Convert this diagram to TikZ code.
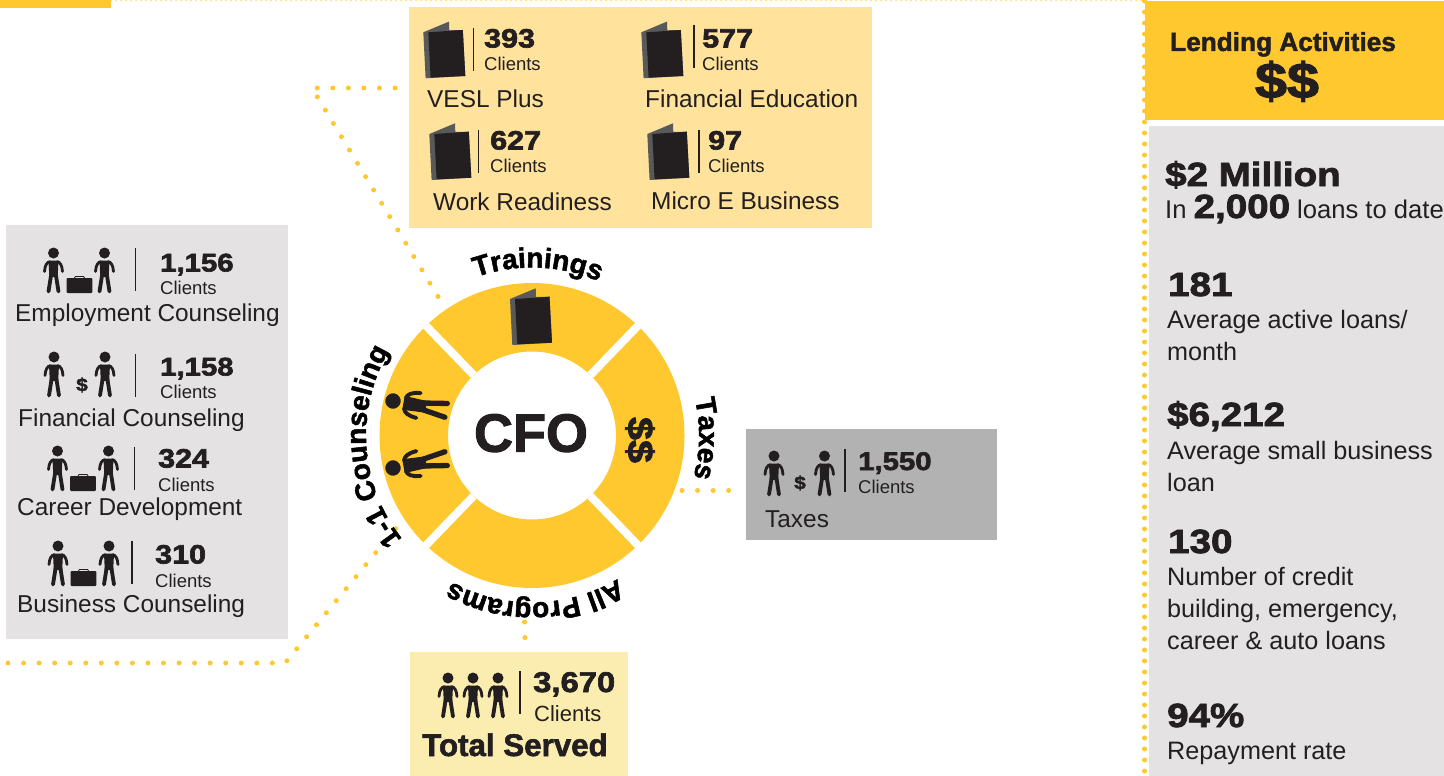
\documentclass[tikz,border=0pt]{standalone}
\usepackage{fontspec}
\usetikzlibrary{decorations.text}
\setmainfont{Liberation Sans}
\newfontfamily\heavywide[BoldFeatures={FakeBold=2.4,FakeStretch=1.15}]{Liberation Sans}
\newfontfamily\heavynarrow[BoldFeatures={FakeBold=1.8}]{Liberation Sans}
\definecolor{ink}{HTML}{231F20}
\definecolor{gold}{HTML}{FFC82E}
\definecolor{palegold}{HTML}{FFE29C}
\definecolor{paler}{HTML}{FBEDB0}
\definecolor{lightgrey}{HTML}{E4E2E3}
\definecolor{midgrey}{HTML}{B2B2B2}
\definecolor{bookgrey}{HTML}{58595B}
\newcommand\hvy[2]{{\heavywide\bfseries\fontsize{#1}{#1}\selectfont #2}}
\newcommand\hnr[2]{{\heavynarrow\bfseries\fontsize{#1}{#1}\selectfont #2}}
\newcommand\rg[2]{{\fontsize{#1}{#1}\selectfont #2}}
\newcommand\arclabfont{\heavynarrow\bfseries\fontsize{28}{28}\selectfont}
\newcommand\personfig[1]{%
  \begin{scope}[scale=#1]
  \fill[ink] (0,0) circle (5.5);
  \fill[ink] (-5,-7.6) -- (5,-7.6) -- (4.2,-24) -- (-4.2,-24) -- cycle;
  \draw[ink,line width=#1*3.8pt,line cap=round] (-2.4,-22) -- (-5,-38.5);
  \draw[ink,line width=#1*3.8pt,line cap=round] (2.4,-22) -- (5,-38.5);
  \draw[ink,line width=#1*2.8pt,line cap=round] (-3.5,-8.8) .. controls (-6.5,-9) and (-8.5,-12) .. (-9,-18.5);
  \draw[ink,line width=#1*2.8pt,line cap=round] (3.5,-8.8) .. controls (6.5,-9) and (8.5,-12) .. (9,-18.5);
  \end{scope}}
\tikzset{
  x=1pt,y=1pt,
  lbl/.style={anchor=base west,inner sep=0pt,text=ink},
  clbl/.style={anchor=base,inner sep=0pt,text=ink},
  dots/.style={draw=gold,line width=5pt,line cap=round,dash pattern=on 0pt off 15.55pt},
  finedots/.style={draw=gold,line width=1.4pt,line cap=round,dash pattern=on 0pt off 5pt},
  sep/.style={draw=ink,line width=1.5pt},
  person/.pic={\personfig{1}},
  bigperson/.pic={\personfig{1.4}},
  bookicon/.pic={
    \fill[bookgrey] (0,0) -- (25.7,10.7) -- (26,2) -- (39.5,2.3) -- (42,-43.7) -- (2.3,-46) -- cycle;
    \fill[ink] (5,0) -- (39.5,2.3) -- (42,-43.7) -- (7.3,-45.3) -- cycle;
  },
  suitcase/.pic={
    \fill[ink,rounded corners=1pt] (-12.8,-8) rectangle (12.8,7);
    \draw[ink,line width=.8pt] (-5,7) -- (-4,8.6) -- (4,8.6) -- (5,7);
  },
  gapline/.style={draw=white,line width=8pt},
  arctext/.style={decorate,decoration={text along path,text align=center,text={|\arclabfont|#1}}},
}
\begin{document}
\begin{tikzpicture}
\useasboundingbox (0,-776) rectangle (1444,0);
% named anchors of the connectors
\coordinate (c) at (532,-435.5);
\coordinate (tStart) at (312,-88);
\coordinate (tEnd) at (395,-88);
\coordinate (tRing) at (439.5,-299);
\coordinate (cStart) at (8,-663);
\coordinate (cCorner) at (285,-663);
\coordinate (cRing) at (396,-528);
\coordinate (xRing) at (682,-490.5);
\coordinate (xBox) at (731,-490.5);
\coordinate (aRing) at (524.5,-622);
\coordinate (aBox) at (525,-640);
\coordinate (topA) at (111,-.7);
\coordinate (topB) at (1144,-.7);
\coordinate (sideA) at (1144.5,-1);
\coordinate (sideB) at (1144.5,-776);
% connectors beneath the panels
\draw[finedots] (topA) -- (topB);
\draw[dots,dash pattern=on 0pt off 11pt] (sideA) -- (sideB);
\draw[dots] (tEnd) -- (tStart) -- (tRing);
\draw[dots] (cStart) -- (cCorner) -- (cRing);
\draw[dots] (xRing) -- (xBox);
\draw[dots] (aRing) -- (aBox);
% panels
\fill[gold] (0,0) rectangle (111,-8);
\fill[palegold] (409,-7) rectangle (872,-228);
\fill[lightgrey] (6,-225) rectangle (288,-639);
\fill[midgrey] (746,-429) rectangle (997,-540);
\fill[paler] (410,-652) rectangle (628,-776);
\fill[gold] (1145,-1) rectangle (1444,-120);
\fill[lightgrey] (1149,-126) rectangle (1444,-776);
% ring
\fill[gold,even odd rule] (c) circle (152.5) (c) circle (84);
\foreach \a in {46,134,226,314}
  \draw[gapline] ([shift={(\a:84)}]c) -- ([shift={(\a:158)}]c);
\path[arctext=Trainings] ([shift={(128:168)}]c) arc (128:48:168);
\path[arctext=Taxes] ([shift={(28:167)}]c) arc (28:-30:167);
\path[arctext=All Programs] ([shift={(-39:167)}]c) arc (-39:-139:167);
\path[arctext=1-1 Counseling] ([shift={(239:166)}]c) arc (239:129:166);
\node[clbl] (cfo) at (531,-451.7) {\hnr{54}{CFO}};
\node[clbl,rotate=-90,anchor=base] (ringmoney) at (628,-440) {\hvy{36}{\$\$}};
\pic at (510,-299) {bookicon};
\pic[rotate=80] at (393,-401) {bigperson};
\pic[rotate=100] at (393,-468) {bigperson};
% trainings panel
\pic at (423.3,-32.3) {bookicon};
\draw[sep] (473.3,-28) -- (473.3,-71);
\node[lbl] (n393) at (484,-47.5) {\hvy{26.5}{393}};
\node[lbl] (c393) at (484,-70.5) {\rg{18.5}{Clients}};
\node[lbl] (vesl) at (427,-107) {\rg{24.4}{VESL Plus}};
\pic at (641.3,-32.3) {bookicon};
\draw[sep] (694,-25) -- (694,-68);
\node[lbl] (n577) at (702,-47.5) {\hvy{26.5}{577}};
\node[lbl] (c577) at (702,-70.5) {\rg{18.5}{Clients}};
\node[lbl] (fined) at (645,-107) {\rg{24.4}{Financial Education}};
\pic at (429.3,-134) {bookicon};
\draw[sep] (478.5,-130) -- (478.5,-173);
\node[lbl] (n627) at (490,-149.5) {\hvy{26.5}{627}};
\node[lbl] (c627) at (490,-172.5) {\rg{18.5}{Clients}};
\node[lbl] (work) at (433,-210) {\rg{24.4}{Work Readiness}};
\pic at (647.3,-134) {bookicon};
\draw[sep] (699,-130) -- (699,-173);
\node[lbl] (n97) at (708,-149.5) {\hvy{26.5}{97}};
\node[lbl] (c97) at (708,-172.5) {\rg{18.5}{Clients}};
\node[lbl] (micro) at (651,-209) {\rg{24.4}{Micro E Business}};
% counseling panel
\pic at (53.5,-253) {person};
\pic at (79.5,-285) {suitcase};
\pic at (104.5,-253) {person};
\draw[sep] (135.5,-248) -- (135.5,-291);
\node[lbl] (n1156) at (160,-271.5) {\hvy{25.5}{1,156}};
\node[lbl] (c1156) at (160,-294) {\rg{18.5}{Clients}};
\node[lbl] (emp) at (15,-321) {\rg{24.4}{Employment Counseling}};
\pic at (54,-357) {person};
\node[clbl] (d1158) at (82,-391) {\hvy{18}{\$}};
\pic at (105,-357) {person};
\draw[sep] (135.5,-354) -- (135.5,-397);
\node[lbl] (n1158) at (160,-375.5) {\hvy{25.5}{1,158}};
\node[lbl] (c1158) at (160,-398) {\rg{18.5}{Clients}};
\node[lbl] (fin) at (18,-426) {\rg{24.4}{Financial Counseling}};
\pic at (57.5,-451) {person};
\pic at (83,-483) {suitcase};
\pic at (108.5,-451) {person};
\draw[sep] (134.5,-447) -- (134.5,-490);
\node[lbl] (n324) at (158,-467.5) {\hvy{26.5}{324}};
\node[lbl] (c324) at (158,-491) {\rg{18.5}{Clients}};
\node[lbl] (car) at (17,-515) {\rg{24.4}{Career Development}};
\pic at (58,-546) {person};
\pic at (83.5,-578) {suitcase};
\pic at (109,-546) {person};
\draw[sep] (132,-541) -- (132,-584);
\node[lbl] (n310) at (155,-563.5) {\hvy{26.5}{310}};
\node[lbl] (c310) at (155,-587) {\rg{18.5}{Clients}};
\node[lbl] (bus) at (17,-612) {\rg{24.4}{Business Counseling}};
% taxes panel
\pic at (774,-456) {person};
\node[clbl] (d1550) at (800,-489) {\hvy{18}{\$}};
\pic at (824.5,-456) {person};
\draw[sep] (845,-449) -- (845,-492);
\node[lbl] (n1550) at (858,-470) {\hvy{25.5}{1,550}};
\node[lbl] (c1550) at (858,-493) {\rg{18.5}{Clients}};
\node[lbl] (tax) at (765,-527.5) {\rg{24.4}{Taxes}};
% total panel
\pic at (448,-678) {person};
\pic at (473,-678) {person};
\pic at (498,-678) {person};
\draw[sep] (520,-671) -- (520,-714);
\node[lbl] (n3670) at (533,-692) {\hvy{28.5}{3,670}};
\node[lbl] (c3670) at (534,-721) {\rg{22}{Clients}};
\node[lbl] (total) at (422,-756) {\hnr{31.3}{Total Served}};
% lending
\node[lbl] (lend) at (1170,-51) {\hnr{26.2}{Lending Activities}};
\node[clbl] (lendm) at (1287,-98) {\hvy{50}{\$\$}};
\node[lbl] (m2) at (1165,-186) {\hvy{33.5}{\$2 Million}};
\node[lbl] (m2b) at (1165,-218) {\rg{25.6}{In\ }\hvy{33.5}{2,000}\rg{25.6}{\ loans to date}};
\node[lbl] (n181) at (1168,-296) {\hvy{33.5}{181}};
\node[lbl] (t181a) at (1167,-328) {\rg{25.2}{Average active loans/}};
\node[lbl] (t181b) at (1167,-360) {\rg{25.2}{month}};
\node[lbl] (n6212) at (1167,-426) {\hvy{33.5}{\$6,212}};
\node[lbl] (t62a) at (1167,-459) {\rg{25.2}{Average small business}};
\node[lbl] (t62b) at (1167,-491) {\rg{25.2}{loan}};
\node[lbl] (n130) at (1168,-553) {\hvy{33.5}{130}};
\node[lbl] (t13a) at (1167,-585) {\rg{25.2}{Number of credit}};
\node[lbl] (t13b) at (1167,-617) {\rg{25.2}{building, emergency,}};
\node[lbl] (t13c) at (1167,-649) {\rg{25.2}{career \& auto loans}};
\node[lbl] (n94) at (1167,-727) {\hvy{33.5}{94\%}};
\node[lbl] (t94) at (1167,-759) {\rg{25.2}{Repayment rate}};
\end{tikzpicture}
\end{document}
